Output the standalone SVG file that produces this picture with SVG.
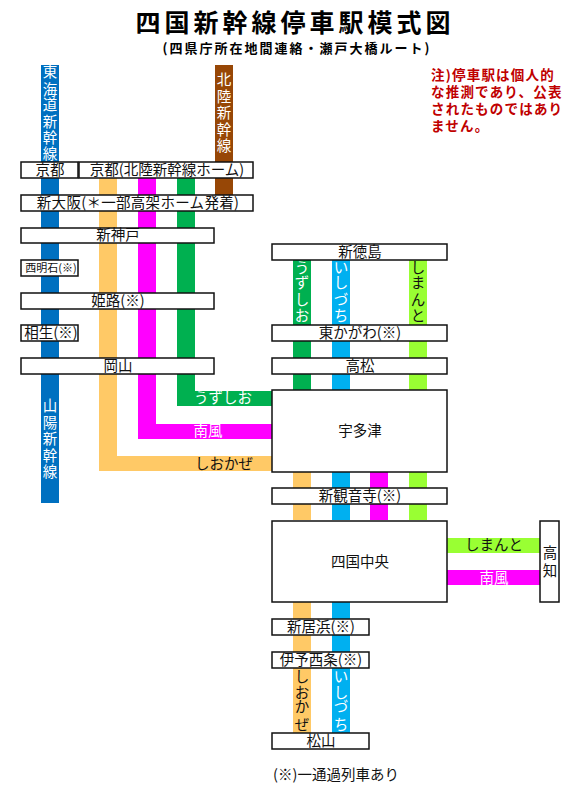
<svg xmlns="http://www.w3.org/2000/svg" width="582" height="800" viewBox="0 0 582 800">
<style>
text{font-family:"Noto Sans CJK JP","Noto Sans",sans-serif;font-size:14.5px;text-anchor:middle;fill:#111}
.w{fill:#fff}
.s{fill:#fff;stroke:#111;stroke-width:1.5}
.title{font-size:25px;font-weight:700;letter-spacing:4px;fill:#000}
.sub{font-size:13px;font-weight:700;letter-spacing:2px;fill:#000}
.note{font-size:13.5px;font-weight:700;fill:#c00000;text-anchor:start;letter-spacing:1.2px}
.blue{fill:#0070c0}.brown{fill:#974706}.orange{fill:#ffc966}.pink{fill:#f0f}.green{fill:#00b050}.cyan{fill:#00b0f0}.lime{fill:#9f3}
</style>
<rect width="582" height="800" fill="#fff"/>
<text class="title" x="295" y="32">四国新幹線停車駅模式図</text>
<text class="sub" x="297" y="53">(四県庁所在地間連絡・瀬戸大橋ルート)</text>
<text class="note" x="431" y="80">注)停車駅は個人的</text>
<text class="note" x="431" y="97">な推測であり、公表</text>
<text class="note" x="431" y="114">されたものではあり</text>
<text class="note" x="431" y="131">ません。</text>
<g id="connectors">
<rect class="blue" x="41" y="65" width="18" height="438"/>
<rect class="brown" x="215" y="65" width="18" height="130"/>
<rect class="orange" x="99" y="178" width="18" height="293"/>
<rect class="orange" x="99" y="456" width="173" height="15"/>
<rect class="pink" x="138" y="178" width="18" height="261"/>
<rect class="pink" x="138" y="424" width="134" height="15"/>
<rect class="green" x="177" y="178" width="18" height="228"/>
<rect class="green" x="177" y="391" width="95" height="15"/>
<rect class="green" x="293" y="260" width="18" height="130"/>
<rect class="cyan" x="332" y="260" width="18" height="130"/>
<rect class="lime" x="409" y="260" width="18" height="130"/>
<rect class="orange" x="293" y="472" width="18" height="48"/>
<rect class="cyan" x="332" y="472" width="18" height="48"/>
<rect class="pink" x="370" y="472" width="18" height="48"/>
<rect class="lime" x="409" y="472" width="18" height="48"/>
<rect class="lime" x="447" y="538" width="93" height="15"/>
<rect class="pink" x="447" y="570" width="93" height="15"/>
<rect class="orange" x="293" y="602" width="18" height="131"/>
<rect class="cyan" x="332" y="602" width="18" height="131"/>
<text class="w" x="50 50 50 50 50 50" y="77 95 110 127 143 159">東海道新幹線</text>
<text class="w" x="224 224 224 224 224" y="85 102 118 135 151">北陸新幹線</text>
<text class="w" x="50 50 50 50 50" y="411 428 444 461 477">山陽新幹線</text>
<text class="w" x="223" y="403">うずしお</text>
<text class="w" x="208" y="436">南風</text>
<text x="224" y="469">しおかぜ</text>
<text class="w" x="302 302 302 302" y="273 288 305 321">うずしお</text>
<text class="w" x="341 341 341 341" y="273 288 305 321">いしづち</text>
<text x="418 418 418 418" y="273 288 305 321">しまんと</text>
<text x="494" y="550">しまんと</text>
<text class="w" x="494" y="583">南風</text>
<text x="302 302 302 302" y="682 698 712 730">しおかぜ</text>
<text class="w" x="341 341 341 341" y="682 698 712 730">いしづち</text>
</g>
<g id="kyoto"><rect class="s" x="21" y="162" width="57" height="16"/><text x="50" y="175">京都</text></g>
<g id="kyoto-hokuriku"><rect class="s" x="79" y="162" width="174" height="16"/><text x="167" y="175">京都(北陸新幹線ホーム)</text></g>
<g id="shin-osaka"><rect class="s" x="21" y="195" width="232" height="16"/><text x="138" y="208" style="letter-spacing:.3px">新大阪(＊一部高架ホーム発着)</text></g>
<g id="shin-kobe"><rect class="s" x="21" y="228" width="193" height="15"/><text x="118" y="240">新神戸</text></g>
<g id="nishi-akashi"><rect class="s" x="21" y="260" width="57" height="16"/><text x="51" y="272" style="font-size:11px">西明石(※)</text></g>
<g id="himeji"><rect class="s" x="21" y="293" width="193" height="16"/><text x="118" y="306">姫路(※)</text></g>
<g id="aioi"><rect class="s" x="21" y="325" width="57" height="16"/><text x="51" y="338">相生(※)</text></g>
<g id="okayama"><rect class="s" x="21" y="358" width="193" height="16"/><text x="118" y="371">岡山</text></g>
<g id="shin-tokushima"><rect class="s" x="272" y="244" width="175" height="16"/><text x="360" y="257">新徳島</text></g>
<g id="higashi-kagawa"><rect class="s" x="272" y="325" width="175" height="16"/><text x="360" y="338">東かがわ(※)</text></g>
<g id="takamatsu"><rect class="s" x="272" y="358" width="175" height="16"/><text x="360" y="371">高松</text></g>
<g id="utazu"><rect class="s" x="272" y="390" width="175" height="82"/><text x="360" y="436">宇多津</text></g>
<g id="shin-kanonji"><rect class="s" x="272" y="488" width="175" height="16"/><text x="360" y="501">新観音寺(※)</text></g>
<g id="shikoku-chuo"><rect class="s" x="272" y="521" width="175" height="81"/><text x="360" y="567">四国中央</text></g>
<g id="kochi"><rect class="s" x="540" y="521" width="19" height="81"/><text x="550 550" y="558 576">高知</text></g>
<g id="shin-niihama"><rect class="s" x="272" y="619" width="97" height="16"/><text x="321" y="632">新居浜(※)</text></g>
<g id="iyo-saijo"><rect class="s" x="272" y="652" width="97" height="16"/><text x="321" y="665">伊予西条(※)</text></g>
<g id="matsuyama"><rect class="s" x="272" y="733" width="97" height="16"/><text x="321" y="746">松山</text></g>
<text x="336" y="780">(※)一通過列車あり</text>
</svg>
